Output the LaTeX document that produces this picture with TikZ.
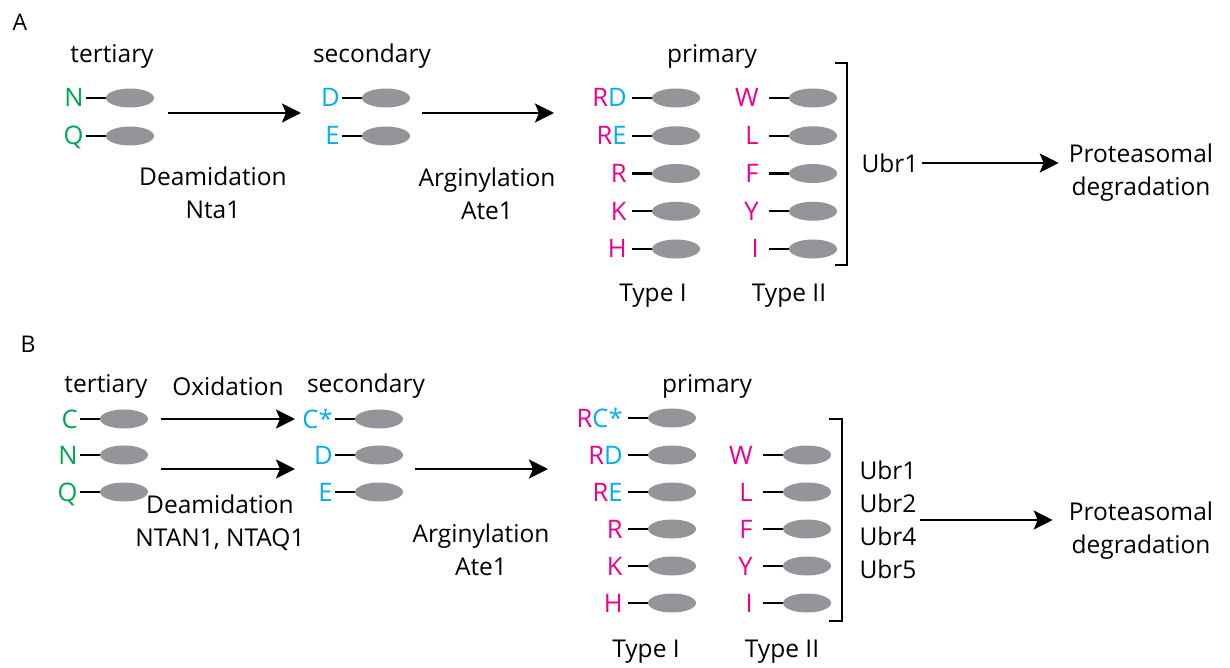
\documentclass[tikz,border=0pt]{standalone}
\usepackage{fontspec}
\setmainfont{Open Sans}
\usetikzlibrary{positioning}
\usetikzlibrary{shapes.geometric}
\usetikzlibrary{arrows.meta}
\definecolor{tertgreen}{HTML}{00A651}
\definecolor{seccyan}{HTML}{00AEEF}
\definecolor{primmag}{HTML}{EC008C}
\definecolor{resgray}{HTML}{939598}
\newcommand{\bodyfont}{\fontsize{24.5}{33}\selectfont}
\newcommand{\tertc}[1]{\textcolor{tertgreen}{#1}}
\newcommand{\secc}[1]{\textcolor{seccyan}{#1}}
\newcommand{\primc}[1]{\textcolor{primmag}{#1}}
% residue: ellipse, letter to its left, short bond between
\newcommand{\resnode}[5][]{%
  \node[res] (#2) at (#3,#4) {};
  \node[reslab, left=20pt of #2, #1] (#2-l) {#5};
  \draw[stub] (#2-l) -- (#2);
}

\begin{document}
\begin{tikzpicture}[%
    x=1pt, y=-1pt,
    res/.style={
      ellipse,
      fill=resgray,
      minimum width=48pt,
      minimum height=19pt,
      inner sep=0pt
    },
    reslab/.style={
      font=\fontsize{25.5}{33}\selectfont,
      text height=18pt,
      text depth=0pt,
      inner sep=2pt
    },
    txt/.style={font=\bodyfont, align=center, inner sep=3pt},
    panel/.style={font=\fontsize{23}{26}\selectfont, inner sep=0pt},
    stub/.style={line width=2.4pt},
    bracket/.style={line width=2.2pt},
    arr/.style={line width=2.6pt, -{Stealth[length=19pt, width=19pt, inset=4pt]}}
    ]
    \useasboundingbox (0,0) rectangle (1230,668);

    % ---- panel A ----
    \node[panel] (pA) at (20,22) {A};
    \node[txt] (tertA) at (112,56) {tertiary};
    \node[txt] (secA) at (372,56) {secondary};
    \node[txt] (primA) at (712,56) {primary};

    \resnode{aN}{130}{98}{\tertc{N}}
    \resnode{aQ}{130}{136}{\tertc{Q}}
    \resnode{aD}{386}{98}{\secc{D}}
    \resnode{aE}{386}{136}{\secc{E}}

    \foreach \t [count=\i, evaluate=\i as \y using 98+(\i-1)*37.75] in
      {{\primc{R}\secc{D}}, {\primc{R}\secc{E}}, \primc{R}, \primc{K}, \primc{H}}
      {\resnode[inner xsep=5pt]{aI\i}{676}{\y}{\t}}
    \foreach \t [count=\i, evaluate=\i as \y using 98+(\i-1)*37.75] in
      {\primc{W}, \primc{L}, \primc{F}, \primc{Y}, \primc{I}}
      {\resnode[inner xsep=10pt]{aII\i}{813}{\y}{\t}}

    \draw[bracket] (835,63) -- (847,63) -- (847,265) -- (835,265);

    \coordinate (a1s) at (168,113);
    \coordinate (a1e) at (301,113);
    \coordinate (a2s) at (422,113);
    \coordinate (a2e) at (554,113);
    \draw[arr] (a1s) -- (a1e);
    \draw[arr] (a2s) -- (a2e);
    \node[txt] (deamA) at (213,193) {Deamidation\\Nta1};
    \node[txt] (argA) at (487,194) {Arginylation\\Ate1};

    \node[txt] (typeIA) at (653,296) {Type I};
    \node[txt] (typeIIA) at (789,296) {Type II};

    \node[txt] (ubrA) at (890,163) {Ubr1};
    \node[txt] (protA) at (1141,173) {Proteasomal\\degradation};
    \draw[arr, shorten >=7pt] (ubrA) -- (ubrA -| protA.west);

    % ---- panel B ----
    \node[panel] (pB) at (28,344) {B};
    \node[txt] (tertB) at (106,386) {tertiary};
    \node[txt] (oxB) at (228,386) {Oxidation};
    \node[txt] (secB) at (366,386) {secondary};
    \node[txt] (primB) at (707,386) {primary};

    \resnode{bC}{124}{419}{\tertc{C}}
    \resnode{bN}{124}{455}{\tertc{N}}
    \resnode{bQ}{124}{492}{\tertc{Q}}
    \resnode{bCs}{379}{419}{\secc{C*}}
    \resnode{bD}{379}{455}{\secc{D}}
    \resnode{bE}{379}{492}{\secc{E}}

    \foreach \t [count=\i, evaluate=\i as \y using 418+(\i-1)*37] in
      {{\primc{R}\secc{C*}}, {\primc{R}\secc{D}}, {\primc{R}\secc{E}}, \primc{R}, \primc{K}, \primc{H}}
      {\resnode[inner xsep=5pt]{bI\i}{672}{\y}{\t}}
    \foreach \t [count=\i from 2, evaluate=\i as \y using 418+(\i-1)*37] in
      {\primc{W}, \primc{L}, \primc{F}, \primc{Y}, \primc{I}}
      {\resnode[inner xsep=10pt]{bII\i}{807}{\y}{\t}}

    \draw[bracket] (829,419) -- (842,419) -- (842,621) -- (829,621);

    \coordinate (b1s) at (161,419);
    \coordinate (b1e) at (295,419);
    \coordinate (b2s) at (161,469);
    \coordinate (b2e) at (295,469);
    \coordinate (b3s) at (415,469);
    \coordinate (b3e) at (548,469);
    \draw[arr] (b1s) -- (b1e);
    \draw[arr] (b2s) -- (b2e);
    \draw[arr] (b3s) -- (b3e);
    \node[txt] (deamB) at (220,523) {Deamidation\\NTAN1, NTAQ1};
    \node[txt] (argB) at (481,550) {Arginylation\\Ate1};

    \node[txt] (typeIB) at (646,652) {Type I};
    \node[txt] (typeIIB) at (782,652) {Type II};

    \node[txt, align=left] (ubrB) at (888,520) {Ubr1\\Ubr2\\Ubr4\\Ubr5};
    \node[txt] (protB) at (1141,531) {Proteasomal\\degradation};
    \draw[arr, shorten >=13pt] (ubrB) -- (ubrB -| protB.west);
  \end{tikzpicture}
\end{document}
